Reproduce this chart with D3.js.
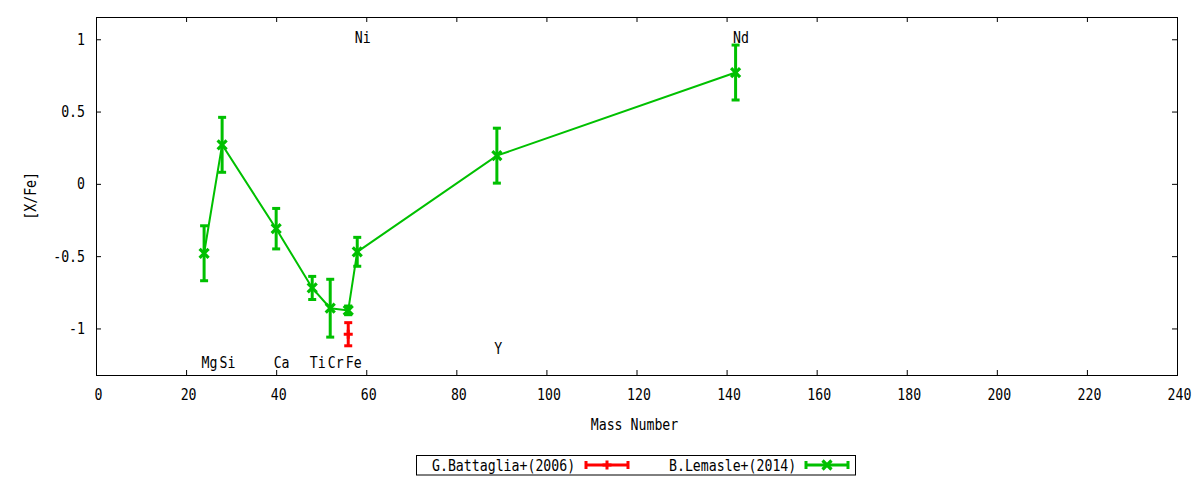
<!DOCTYPE html>
<html>
<head>
<meta charset="utf-8">
<script src="https://cdn.jsdelivr.net/npm/d3@7"></script>
<style>
  body { margin: 0; background: #fff; }
  svg { display: block; }
</style>
</head>
<body>
<svg id="chart" width="1200" height="480"></svg>
<script>
// element labels
const labelNames = ["Mg", "Si", "Ca", "Ti", "Cr", "Fe", "Ni", "Y", "Nd"]
const labelMass = [24, 28, 40, 48, 52, 56, 58, 89, 142]
const labelY = [-1.25, -1.25, -1.25, -1.25, -1.25, -1.25, 1.0, -1.15, 1.0]

// B.Lemasle+(2014)
const lemasleMass = [24, 28, 40, 48, 52, 56, 58, 89, 142]
const lemasleVal = [-0.48, 0.27, -0.31, -0.72, -0.86, -0.875, -0.47, 0.195, 0.77]
const lemasleErr = [0.19, 0.19, 0.14, 0.08, 0.2, 0.03, 0.1, 0.19, 0.19]

// G.Battaglia+(2006)
const battagliaMass = [56]
const battagliaVal = [-1.04]
const battagliaErr = [0.08]

const xTicks = [0, 20, 40, 60, 80, 100, 120, 140, 160, 180, 200, 220, 240]
const yTicks = [-1, -0.5, 0, 0.5, 1]

const RED = "#ff0000"
const GREEN = "#00c000"
const FONT = "'DejaVu Sans Mono', monospace"

const margin = { top: 17, right: 23, bottom: 105, left: 96 }
const width = 1200 - margin.left - margin.right
const height = 480 - margin.top - margin.bottom

const svg = d3.select("#chart")

const x = d3.scaleLinear().domain([0, 240]).range([margin.left, margin.left + width])
const y = d3.scaleLinear().domain([-1.322, 1.154]).range([margin.top + height, margin.top])

// condensed monospace text like the gnuplot font
function label(parent, px, py, str, anchor = "start", rot = 0) {
  return parent.append("text")
    .attr("transform", `translate(${px},${py}) rotate(${rot}) scale(0.87,1)`)
    .attr("text-anchor", anchor)
    .style("font-family", FONT)
    .style("font-size", "15.2px")
    .style("fill", "#000")
    .text(str)
}

// axes (ticks inside, mirrored)
const axBottom = svg.append("g").attr("transform", `translate(0,${margin.top + height})`)
  .call(d3.axisBottom(x).tickValues(xTicks).tickSize(-5).tickFormat(""))
const axTop = svg.append("g").attr("transform", `translate(0,${margin.top})`)
  .call(d3.axisTop(x).tickValues(xTicks).tickSize(-5).tickFormat(""))
const axLeft = svg.append("g").attr("transform", `translate(${margin.left},0)`)
  .call(d3.axisLeft(y).tickValues(yTicks).tickSize(-5).tickFormat(""))
const axRight = svg.append("g").attr("transform", `translate(${margin.left + width},0)`)
  .call(d3.axisRight(y).tickValues(yTicks).tickSize(-5).tickFormat(""))
;[axBottom, axTop, axLeft, axRight].forEach((g) => {
  g.select(".domain").remove()
  g.selectAll("line").attr("stroke", "#000").attr("stroke-width", 1)
})

svg.append("rect")
  .attr("x", margin.left + 0.5)
  .attr("y", margin.top + 0.5)
  .attr("width", width)
  .attr("height", height)
  .attr("fill", "none")
  .attr("stroke", "#000")
  .attr("stroke-width", 1)

xTicks.forEach((t) => label(svg, x(t) + 2.5, margin.top + height + 25, String(t), "middle"))
yTicks.forEach((t) => label(svg, margin.left - 11, y(t) + 5.5, String(t), "end"))

label(svg, margin.left + width / 2 - 2, 430, "Mass Number", "middle")
label(svg, 36, y(0) + 12, "[X/Fe]", "middle", -90)

// element labels
labelNames.forEach((n, i) => label(svg, x(labelMass[i]) - 2.5, y(labelY[i]) + 3.5, n))

const plot = svg.append("g")

function errorBars(g, mass, val, err, color) {
  mass.forEach((m, i) => {
    const cx = x(m)
    const y0 = y(val[i] - err[i])
    const y1 = y(val[i] + err[i])
    g.append("line").attr("x1", cx).attr("x2", cx).attr("y1", y0).attr("y2", y1)
      .attr("stroke", color).attr("stroke-width", 3)
    ;[y0, y1].forEach((yy) => {
      g.append("line").attr("x1", cx - 4).attr("x2", cx + 4).attr("y1", yy).attr("y2", yy)
        .attr("stroke", color).attr("stroke-width", 3)
    })
  })
}

function plusMark(g, cx, cy, color) {
  g.append("path").attr("d", `M${cx - 4.5},${cy}H${cx + 4.5}M${cx},${cy - 4.5}V${cy + 4.5}`)
    .attr("stroke", color).attr("stroke-width", 3).attr("fill", "none")
}

function crossMark(g, cx, cy, color) {
  g.append("path").attr("d", `M${cx - 4.5},${cy - 4.5}L${cx + 4.5},${cy + 4.5}M${cx - 4.5},${cy + 4.5}L${cx + 4.5},${cy - 4.5}`)
    .attr("stroke", color).attr("stroke-width", 3.2).attr("fill", "none")
}

// Battaglia
errorBars(plot, battagliaMass, battagliaVal, battagliaErr, RED)
battagliaMass.forEach((m, i) => plusMark(plot, x(m), y(battagliaVal[i]), RED))

// Lemasle
const lineGen = d3.line().x((d) => x(d[0])).y((d) => y(d[1]))
plot.append("path")
  .datum(lemasleMass.map((m, i) => [m, lemasleVal[i]]))
  .attr("fill", "none")
  .attr("stroke", GREEN)
  .attr("stroke-width", 2)
  .attr("d", lineGen)
errorBars(plot, lemasleMass, lemasleVal, lemasleErr, GREEN)
lemasleMass.forEach((m, i) => crossMark(plot, x(m), y(lemasleVal[i]), GREEN))

// legend
const lg = svg.append("g")
lg.append("rect").attr("x", 416.5).attr("y", 455.5).attr("width", 439).attr("height", 19.5)
  .attr("fill", "#fff").attr("stroke", "#000").attr("stroke-width", 1)

function legendSample(x0, x1, cy, color, mark) {
  lg.append("line").attr("x1", x0).attr("x2", x1).attr("y1", cy).attr("y2", cy)
    .attr("stroke", color).attr("stroke-width", 3)
  ;[x0, x1].forEach((xx) => {
    lg.append("line").attr("x1", xx).attr("x2", xx).attr("y1", cy - 4).attr("y2", cy + 4)
      .attr("stroke", color).attr("stroke-width", 3)
  })
  mark(lg, (x0 + x1) / 2, cy, color)
}

label(lg, 432, 470.5, "G.Battaglia+(2006)")
legendSample(586, 628, 465, RED, plusMark)
label(lg, 669, 470.5, "B.Lemasle+(2014)")
legendSample(806, 848, 465, GREEN, crossMark)
</script>
</body>
</html>
